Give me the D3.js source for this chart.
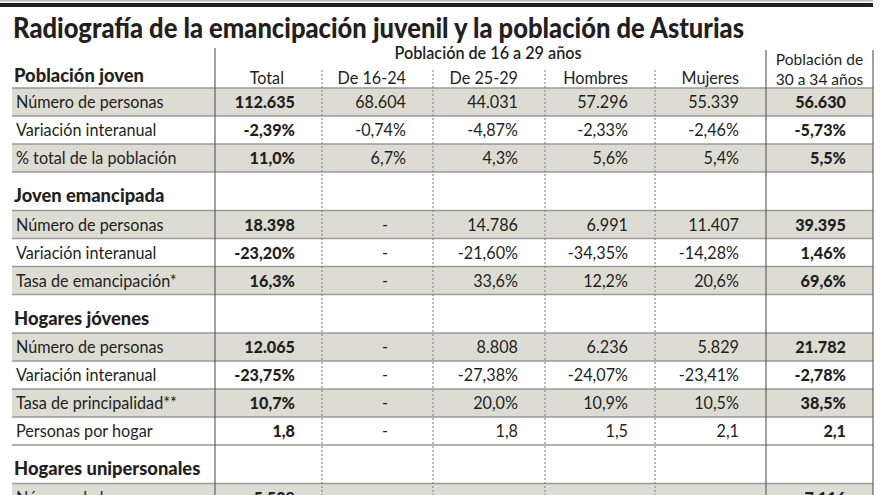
<!DOCTYPE html>
<html><head><meta charset="utf-8">
<script src="https://cdn.jsdelivr.net/npm/d3@7/dist/d3.min.js"></script>
<style>body{margin:0;background:#fff}svg{display:block}text{font-family:Lato,"Noto Sans",sans-serif;fill:#231f20}</style>
</head><body><svg id="c" width="880" height="495"></svg>
<script>
const title = "Radiografía de la emancipación juvenil y la población de Asturias";
const groupHeader = "Población de 16 a 29 años";
const columns = ["Total","De 16-24","De 25-29","Hombres","Mujeres","Población de 30 a 34 años"];
const sections = ["Población joven","Joven emancipada","Hogares jóvenes","Hogares unipersonales"];
const rowLabels = [
  ["Número de personas","Variación interanual","% total de la población"],
  ["Número de personas","Variación interanual","Tasa de emancipación*"],
  ["Número de personas","Variación interanual","Tasa de principalidad**","Personas por hogar"],
  ["Número de hogares"]
];
const valuesTotal = [["112.635","-2,39%","11,0%"],["18.398","-23,20%","16,3%"],["12.065","-23,75%","10,7%","1,8"],["5.508"]];
const values1624  = [["68.604","-0,74%","6,7%"],["-","-","-"],["-","-","-","-"],[""]];
const values2529  = [["44.031","-4,87%","4,3%"],["14.786","-21,60%","33,6%"],["8.808","-27,38%","20,0%","1,8"],[""]];
const valuesHombres = [["57.296","-2,33%","5,6%"],["6.991","-34,35%","12,2%"],["6.236","-24,07%","10,9%","1,5"],[""]];
const valuesMujeres = [["55.339","-2,46%","5,4%"],["11.407","-14,28%","20,6%"],["5.829","-23,41%","10,5%","2,1"],[""]];
const values3034  = [["56.630","-5,73%","5,5%"],["39.395","1,46%","69,6%"],["21.782","-2,78%","38,5%","2,1"],["7.116"]];
const seriesByColumn = [valuesTotal, values1624, values2529, valuesHombres, valuesMujeres, values3034];

const svg = d3.select("#c");
const left = 12, right = 873;
const xEdge = d3.scaleOrdinal().domain(["label", ...columns, "end"]).range([left,215,322,433,545,655,766,873]);
const colRight = (i) => xEdge(columns[i+1] || "end");
const valueX = (i) => colRight(i) - 27;

const rows = [];
let y = 88;
sections.forEach((s, si) => {
  if (si > 0) { rows.push({type:"section", s:si, y0:y, h:38.5}); y += 38.5; }
  rowLabels[si].forEach((l, ri) => { rows.push({type:"data", s:si, r:ri, label:l, y0:y, h:28, shade: ri%2===0}); y += 28; });
});

const BODY = 17.6, SQ = 0.92;
function condense(sel, f){
  sel.each(function(){ const w=this.getComputedTextLength(); if(w>0){ d3.select(this).attr("textLength",w*f).attr("lengthAdjust","spacingAndGlyphs"); } });
}

svg.append("rect").attr("x",0).attr("y",3).attr("width",right).attr("height",4).attr("fill","#231f20");
svg.append("rect").attr("x",0).attr("y",0).attr("width",right).attr("height",1.5).attr("fill","#bbb");

svg.append("text").attr("x",13).attr("y",38).attr("font-size",28.5).attr("font-weight",900)
  .attr("textLength",731).attr("lengthAdjust","spacingAndGlyphs").text(title);

svg.selectAll("rect.band").data(rows.filter(r=>r.type==="data" && r.shade)).join("rect")
  .attr("class","band").attr("x",left).attr("width",right-left)
  .attr("y",d=>d.y0).attr("height",d=>d.h).attr("fill","#dcdcd3");

const hLines = [88, ...rows.map(r=>r.y0+r.h)];
svg.selectAll("line.h").data(hLines).join("line").attr("class","h")
  .attr("x1",left).attr("x2",right).attr("y1",d=>d).attr("y2",d=>d)
  .attr("stroke","#9a9a96").attr("stroke-width",1.4);

const vSolid = [{x:xEdge(columns[0]),y:48},{x:xEdge(columns[5]),y:50},{x:xEdge("end"),y:50}];
svg.selectAll("line.vs").data(vSolid).join("line").attr("class","vs")
  .attr("x1",d=>d.x).attr("x2",d=>d.x).attr("y1",d=>d.y).attr("y2",495)
  .attr("stroke","#555").attr("stroke-width",1.1);
const vDot = columns.slice(1,5).map(c=>xEdge(c));
svg.selectAll("line.vd").data(vDot).join("line").attr("class","vd")
  .attr("x1",d=>d).attr("x2",d=>d).attr("y1",70).attr("y2",495)
  .attr("stroke","#777").attr("stroke-width",1).attr("stroke-dasharray","2,2");

const gh = svg.append("text").attr("x",488).attr("y",59).attr("text-anchor","middle").attr("font-size",BODY).attr("font-weight",600).text(groupHeader);
condense(gh, SQ);
const h3034 = ["Población de","30 a 34 años"];
const h34 = svg.selectAll("text.h34").data(h3034).join("text").attr("class","h34")
  .attr("x",(xEdge(columns[5])+xEdge("end"))/2).attr("y",(d,i)=>65+i*19.5)
  .attr("text-anchor","middle").attr("font-size",16.2).text(d=>d);
condense(h34, 0.96);
const headerX = [284, valueX(1), valueX(2), valueX(3), valueX(4)];
const ch = svg.selectAll("text.ch").data(columns.slice(0,5)).join("text").attr("class","ch")
  .attr("x",(d,i)=>headerX[i]).attr("y",84).attr("text-anchor","end").attr("font-size",BODY).text(d=>d);
condense(ch, SQ);

const s0 = svg.append("text").attr("x",14).attr("y",82).attr("font-size",19.5).attr("font-weight",900).text(sections[0]);
condense(s0, 0.94);
const sec = svg.selectAll("text.sec").data(rows.filter(r=>r.type==="section")).join("text").attr("class","sec")
  .attr("x",14).attr("y",d=>d.y0+30).attr("font-size",19.5).attr("font-weight",900).text(d=>sections[d.s]);
condense(sec, 0.94);

const dataRows = rows.filter(r=>r.type==="data");
const rl = svg.selectAll("text.rl").data(dataRows).join("text").attr("class","rl")
  .attr("x",16).attr("y",d=>d.y0+20).attr("font-size",BODY).text(d=>d.label);
condense(rl, SQ);

columns.forEach((c, ci) => {
  const v = svg.selectAll("text.v"+ci).data(dataRows).join("text").attr("class","v"+ci)
    .attr("x", d => seriesByColumn[ci][d.s][d.r]==="-" ? 385 : valueX(ci))
    .attr("y", d => d.y0+20)
    .attr("text-anchor", d => seriesByColumn[ci][d.s][d.r]==="-" ? "middle" : "end")
    .attr("font-size",BODY)
    .attr("font-weight", (ci===0||ci===5) ? 900 : 400)
    .text(d => seriesByColumn[ci][d.s][d.r]);
  condense(v, SQ);
});
</script></body></html>
